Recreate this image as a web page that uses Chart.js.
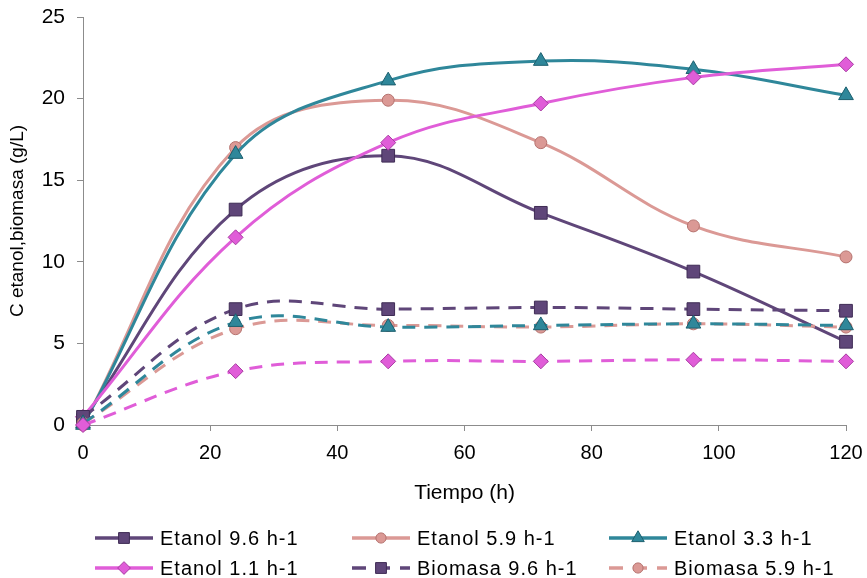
<!DOCTYPE html>
<html>
<head>
<meta charset="utf-8">
<script src="https://cdn.jsdelivr.net/npm/chart.js@4.4.0/dist/chart.umd.min.js"></script>
<style>
  html, body { margin: 0; padding: 0; background: #fff; overflow: hidden; }
</style>
</head>
<body>
<canvas id="grafico" width="867" height="610"></canvas>
<script>
// DATOS
const tiempo = [0, 24, 48, 72, 96, 120];
const etiquetas = [
  "Etanol 9.6 h-1",
  "Etanol 5.9 h-1",
  "Etanol 3.3 h-1",
  "Etanol 1.1 h-1",
  "Biomasa 9.6 h-1",
  "Biomasa 5.9 h-1",
  "Biomasa 3.3 h-1",
  "Biomasa 1.1 h-1",
];
const etanol96 = [0.3, 13.2, 16.5, 13.0, 9.4, 5.1];
const etanol59 = [0.0, 17.0, 19.9, 17.3, 12.2, 10.3];
const etanol33 = [0.0, 16.6, 21.1, 22.3, 21.8, 20.2];
const etanol11 = [0.5, 11.5, 17.3, 19.7, 21.3, 22.1];
const biomasa96 = [0.5, 7.1, 7.1, 7.2, 7.1, 7.0];
const biomasa59 = [0.1, 5.9, 6.1, 6.0, 6.2, 6.0];
const biomasa33 = [0.1, 6.3, 6.0, 6.1, 6.2, 6.1];
const biomasa11 = [0.0, 3.3, 3.9, 3.9, 4.0, 3.9];
const valores = [etanol96, etanol59, etanol33, etanol11, biomasa96, biomasa59, biomasa33, biomasa11];

// ESTILOS
const colores = ["#5F4679", "#DB9995", "#2F879A", "#E05DD8"];
const bordes = ["#3F2C55", "#B5726E", "#1C5F6E", "#A83BA2"];
const formas = ["rect", "circle", "triangle", "rectRot"];
const radios = [9, 6, 8.5, 7.5];

const fuente = '"Liberation Sans", Arial, sans-serif';

const datasets = valores.map((serie, i) => {
  const k = i % 4;
  return {
    label: etiquetas[i],
    data: serie.map((y, j) => ({ x: tiempo[j], y: y })),
    borderColor: colores[k],
    backgroundColor: colores[k],
    borderWidth: 3,
    borderDash: i < 4 ? [] : [13, 9],
    tension: 0.38,
    pointStyle: formas[k],
    pointRadius: radios[k],
    pointBackgroundColor: colores[k],
    pointBorderColor: bordes[k],
    pointBorderWidth: 1,
    clip: false,
    order: 7 - i,
  };
});

// LEYENDA (3 columnas)
const leyenda = {
  id: "leyenda",
  afterDraw(chart) {
    const ctx = chart.ctx;
    ctx.save();
    ctx.font = "20px " + fuente;
    ctx.letterSpacing = "1px";
    ctx.textBaseline = "middle";
    ctx.textAlign = "left";
    chart.data.datasets.forEach((ds, i) => {
      const col = i % 3;
      const fila = Math.floor(i / 3);
      const x = 95 + col * 257;
      const y = 538 + fila * 30;
      ctx.strokeStyle = ds.borderColor;
      ctx.lineWidth = 3.5;
      ctx.setLineDash(ds.borderDash.length ? [14, 10] : []);
      ctx.beginPath();
      ctx.moveTo(x, y);
      ctx.lineTo(x + 58, y);
      ctx.stroke();
      ctx.setLineDash([]);
      ctx.fillStyle = ds.pointBackgroundColor;
      ctx.strokeStyle = ds.pointBorderColor;
      ctx.lineWidth = 1;
      Chart.helpers.drawPoint(ctx, {
        pointStyle: ds.pointStyle,
        radius: ds.pointRadius * 0.85,
        rotation: 0,
        borderWidth: 1,
      }, x + 29, y);
      ctx.fillStyle = "#000";
      ctx.fillText(ds.label, x + 65, y + 1);
    });
    ctx.restore();
  },
};

const grafico = new Chart(document.getElementById("grafico"), {
  type: "line",
  data: { datasets: datasets },
  options: {
    responsive: false,
    animation: false,
    layout: { padding: { top: 17, right: 21, bottom: 90, left: 0 } },
    plugins: {
      legend: { display: false },
      tooltip: { enabled: false },
    },
    scales: {
      x: {
        type: "linear",
        min: 0,
        max: 120,
        afterFit: (s) => { s.height = 95; s.paddingLeft = 0; s.paddingRight = 0; },
        ticks: { stepSize: 20, color: "#000", padding: 10, font: { family: fuente, size: 20 } },
        grid: { drawOnChartArea: false, drawTicks: true, tickLength: 6, color: "#8c8c8c" },
        border: { display: true, color: "#8c8c8c", width: 1 },
        title: {
          display: true,
          text: "Tiempo (h)",
          color: "#000",
          font: { family: fuente, size: 21 },
          padding: { top: 0, bottom: 14 },
        },
      },
      y: {
        min: 0,
        max: 25,
        afterFit: (s) => { s.width = 83; s.paddingTop = 0; s.paddingBottom = 0; },
        ticks: { stepSize: 5, color: "#000", padding: 12, font: { family: fuente, size: 21 } },
        grid: { drawOnChartArea: false, drawTicks: true, tickLength: 6, color: "#8c8c8c" },
        border: { display: true, color: "#8c8c8c", width: 1 },
        title: {
          display: true,
          text: "C etanol,biomasa (g/L)",
          color: "#000",
          font: { family: fuente, size: 19 },
          padding: { top: 6, bottom: 0 },
        },
      },
    },
  },
  plugins: [leyenda],
});
</script>
</body>
</html>
